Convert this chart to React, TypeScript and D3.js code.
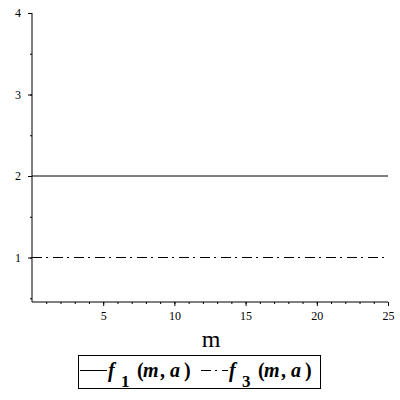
import React, { useEffect, useRef } from 'react';
import * as d3 from 'd3';

// data
const mValues = [0, 25];
const f1Values = [2, 2];
const f3Values = [1, 1];
const xMajorTicks = [5, 10, 15, 20, 25];
const yMajorTicks = [1, 2, 3, 4];
const legendLabels = [
  { name: 'f', sub: '1', dash: null },
  { name: 'f', sub: '3', dash: '10,4,2,5' },
];

const W = 400;
const H = 400;

const App = () => {
  const ref = useRef<SVGSVGElement>(null);

  useEffect(() => {
    const svg = d3.select(ref.current);
    svg.selectAll('*').remove();

    const x = d3.scaleLinear().domain([0, 25]).range([32, 388]);
    const y = d3.scaleLinear().domain([0.454, 4]).range([302, 13]);
    const font = 'Liberation Serif';

    // minor ticks
    const xMinor = d3.range(1, 26);
    const yMinor = d3.range(0.5, 4, 0.5);

    const xAxisMinor = svg.append('g')
      .attr('transform', `translate(0,${y.range()[0]})`)
      .call(d3.axisBottom(x).tickValues(xMinor).tickSize(2).tickFormat(() => '').tickSizeOuter(0));
    xAxisMinor.select('.domain').remove();

    const xAxis = svg.append('g')
      .attr('transform', `translate(0,${y.range()[0]})`)
      .call(d3.axisBottom(x).tickValues(xMajorTicks).tickSize(4).tickPadding(5).tickSizeOuter(0));
    xAxis.select('.domain').attr('d', `M${x(0)},0H${x(25)}`);

    const yAxisMinor = svg.append('g')
      .attr('transform', `translate(${x(0)},0)`)
      .call(d3.axisLeft(y).tickValues(yMinor).tickSize(2).tickFormat(() => '').tickSizeOuter(0));
    yAxisMinor.select('.domain').remove();

    const yAxis = svg.append('g')
      .attr('transform', `translate(${x(0)},0)`)
      .call(d3.axisLeft(y).tickValues(yMajorTicks).tickSize(4).tickPadding(7).tickFormat(d3.format('d')).tickSizeOuter(0));
    yAxis.select('.domain').attr('d', `M0,${y(0.454)}V${y(4)}`);

    svg.selectAll('g').attr('font-family', font).attr('font-size', 12);
    svg.selectAll('.tick text').attr('fill', '#000');
    svg.selectAll('.tick line, .domain').attr('stroke', '#000');

    // lines
    const line = d3.line<number>()
      .x((_, i) => x(mValues[i]))
      .y(d => y(d));

    svg.append('path')
      .datum(f1Values)
      .attr('fill', 'none')
      .attr('stroke', '#000')
      .attr('stroke-width', 1)
      .attr('d', line);

    svg.append('path')
      .datum(f3Values)
      .attr('fill', 'none')
      .attr('stroke', '#000')
      .attr('stroke-width', 1)
      .attr('stroke-dasharray', '10,4,2,5')
      .attr('d', line);

    // x axis label
    svg.append('text')
      .attr('x', 211)
      .attr('y', 347)
      .attr('text-anchor', 'middle')
      .attr('font-family', font)
      .attr('font-size', 24)
      .text('m');

    // legend
    const lg = svg.append('g');
    lg.append('rect')
      .attr('x', 78.5)
      .attr('y', 355.5)
      .attr('width', 242)
      .attr('height', 33)
      .attr('fill', 'none')
      .attr('stroke', '#000');

    const starts = [80, 201];
    legendLabels.forEach((l, i) => {
      const x0 = starts[i];
      const fx = x0 + 27;
      lg.append('line')
        .attr('x1', x0)
        .attr('x2', fx)
        .attr('y1', 370.5)
        .attr('y2', 370.5)
        .attr('stroke', '#000')
        .attr('stroke-dasharray', l.dash);

      const t = lg.append('text')
        .attr('y', 377)
        .attr('font-family', font)
        .attr('font-size', 20)
        .attr('font-weight', 'bold')
        .attr('fill', '#000');
      t.append('tspan').attr('x', fx + 1).attr('font-style', 'italic').text(l.name);
      t.append('tspan').attr('x', fx + 14).attr('y', 387).attr('font-size', 17).text(l.sub);
      t.append('tspan').attr('x', fx + 30).attr('y', 377).text('(');
      t.append('tspan').attr('x', fx + 36).attr('font-style', 'italic').text('m');
      t.append('tspan').attr('x', fx + 53).text(',');
      t.append('tspan').attr('x', fx + 63).attr('font-style', 'italic').text('a');
      t.append('tspan').attr('x', fx + 77).text(')');
    });
  }, []);

  return (
    <svg
      ref={ref}
      width={W}
      height={H}
      style={{ position: 'absolute', left: 0, top: 0, background: '#fff' }}
    />
  );
};

export default App;
